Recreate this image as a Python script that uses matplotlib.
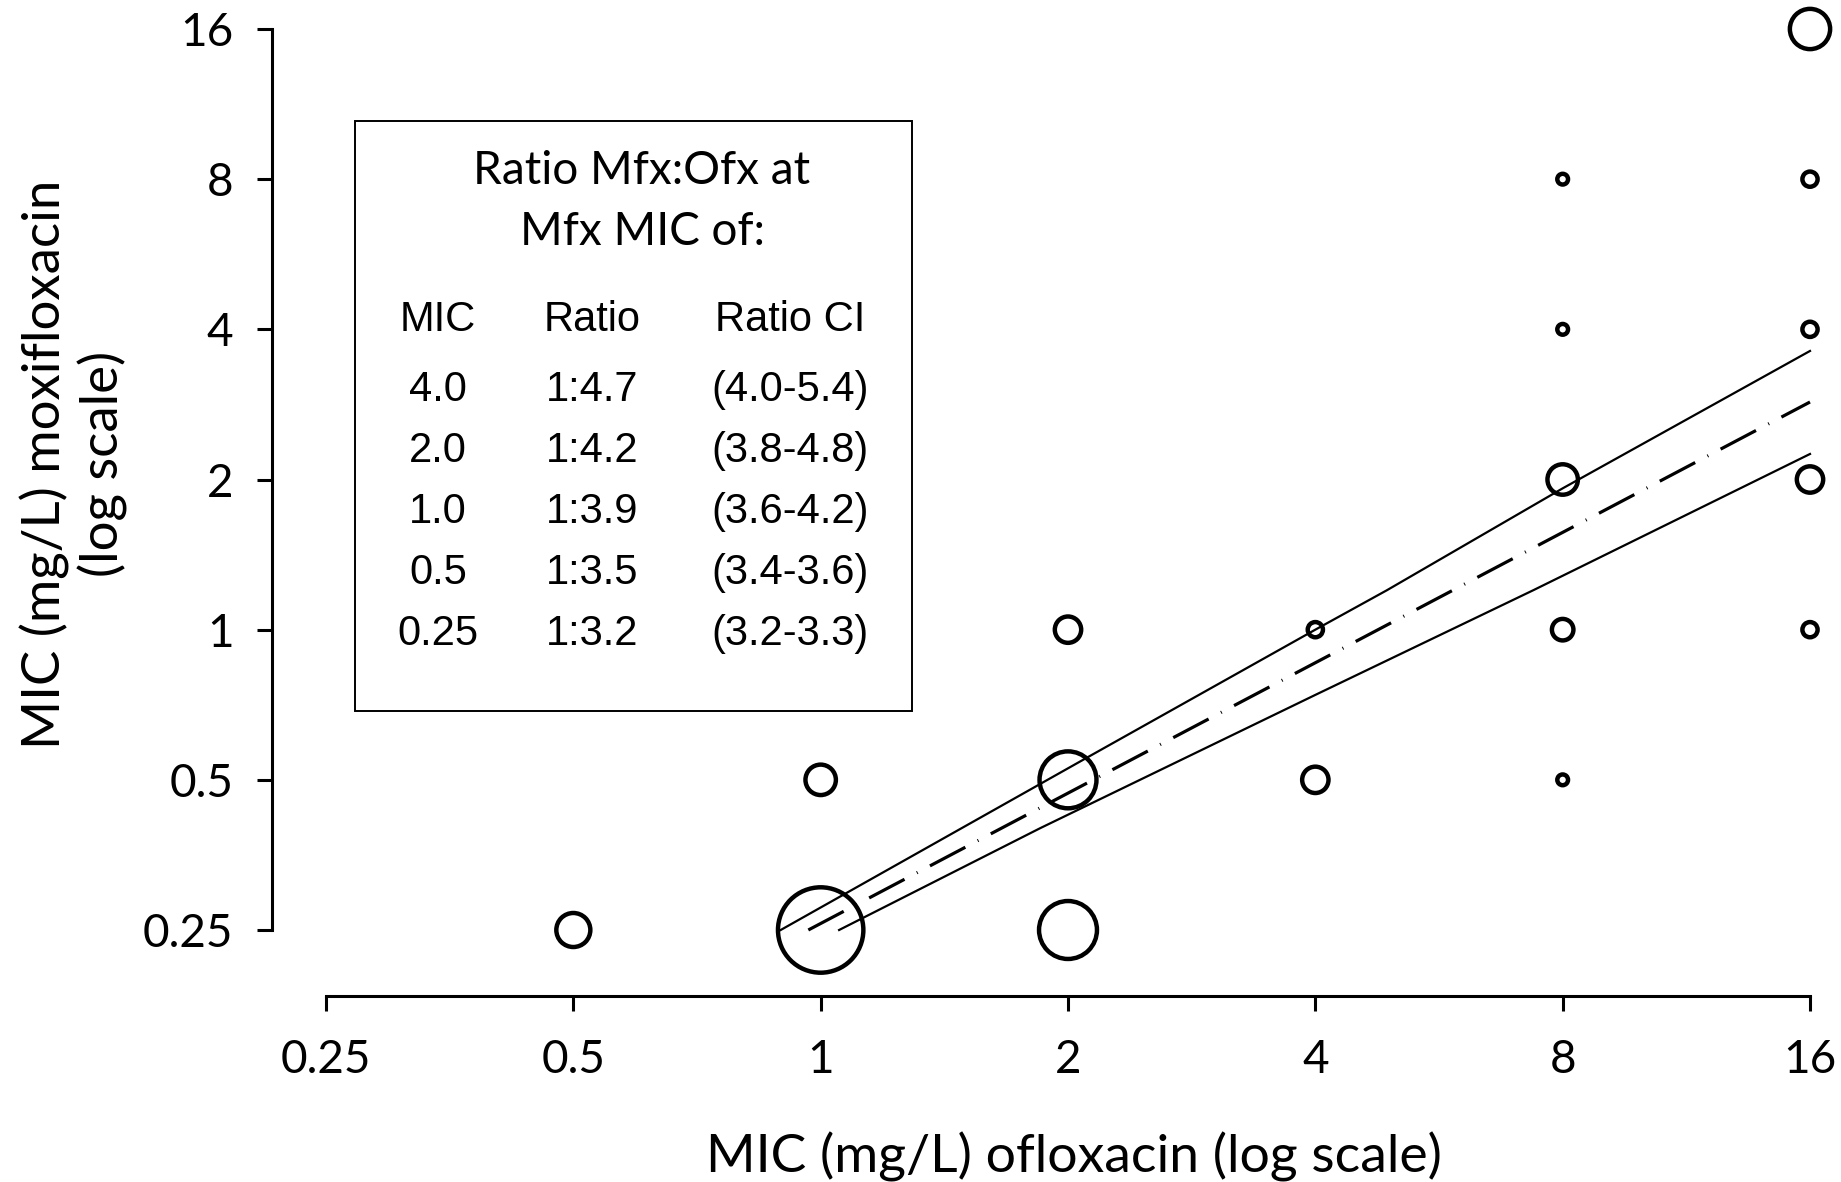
import matplotlib
matplotlib.use('Agg')
import matplotlib.pyplot as plt
import numpy as np

# isolates: ofloxacin MIC, moxifloxacin MIC, number of isolates
ofx_mic = [0.5, 1, 2, 1, 2, 4, 8, 2, 4, 8, 16, 8, 16, 8, 16, 8, 16, 16]
mfx_mic = [0.25, 0.25, 0.25, 0.5, 0.5, 0.5, 0.5, 1, 1, 1, 1, 2, 2, 4, 4, 8, 8, 16]
n_isolates = [10, 63, 29, 8, 28, 6, 1, 6, 2, 4, 2, 8, 6, 1, 2, 1, 2, 14]

# fitted line and its confidence band (points along each curve)
fit_x = [0.966, 16]
fit_y = [0.25, 2.86]
upper_x = [0.894, 2.13, 4.0, 4.89, 8.0, 16]
upper_y = [0.25, 0.559, 1.0, 1.20, 1.92, 3.62]
lower_x = [1.053, 1.85, 4.0, 7.37, 16]
lower_y = [0.25, 0.40, 0.74, 1.20, 2.25]

ticks = [0.25, 0.5, 1, 2, 4, 8, 16]
tick_labels = ['0.25', '0.5', '1', '2', '4', '8', '16']

# inset table
box_title = ['Ratio Mfx:Ofx at', 'Mfx MIC of:']
col_heads = ['MIC', 'Ratio', 'Ratio CI']
tab_mic = ['4.0', '2.0', '1.0', '0.5', '0.25']
tab_ratio = ['1:4.7', '1:4.2', '1:3.9', '1:3.5', '1:3.2']
tab_ci = ['(4.0-5.4)', '(3.8-4.8)', '(3.6-4.2)', '(3.4-3.6)', '(3.2-3.3)']

W, H = 1841, 1182
plt.rcParams['lines.scale_dashes'] = False
calibri = ['Lato', 'DejaVu Sans']
arial = ['Liberation Sans', 'DejaVu Sans']

fig = plt.figure(figsize=(W / 100, H / 100), dpi=100)

def px(x, y):
    return x / W, 1 - y / H

ax = fig.add_axes([326 / W, 1 - 930 / H, (1810 - 326) / W, (930 - 29) / H])
ax.set_xscale('log', base=2)
ax.set_yscale('log', base=2)
ax.set_xlim(0.25, 16)
ax.set_ylim(0.25, 16)

ax.scatter(ofx_mic, mfx_mic, s=np.array(n_isolates) * 60, facecolors='none',
           edgecolors='black', linewidths=3.2, clip_on=False, zorder=2)

ax.plot(upper_x, upper_y, color='black', lw=1.6, clip_on=False, zorder=3)
ax.plot(lower_x, lower_y, color='black', lw=1.6, clip_on=False, zorder=3)
ax.plot(fit_x, fit_y, color='black', lw=2.3, clip_on=False, zorder=3,
        linestyle=(0, (28.8, 10, 0.7, 10)), solid_capstyle='butt', dash_capstyle='butt')

for side in ['top', 'right']:
    ax.spines[side].set_visible(False)
ax.spines['left'].set_position(('outward', 38.9))
ax.spines['bottom'].set_position(('outward', 47.5))
ax.spines['left'].set_bounds(0.25, 16)
ax.spines['bottom'].set_bounds(0.25, 16)
for side in ['left', 'bottom']:
    ax.spines[side].set_linewidth(2.2)

ax.set_xticks(ticks)
ax.set_xticklabels(tick_labels)
ax.set_yticks(ticks)
ax.set_yticklabels(tick_labels)
ax.minorticks_off()
ax.tick_params(axis='both', length=10.8, width=2.2, labelsize=33)
ax.tick_params(axis='y', pad=17)
ax.tick_params(axis='x', pad=20)
for lab in ax.get_xticklabels() + ax.get_yticklabels():
    lab.set_family(calibri)

fig.text(*px(1074, 1157), 'MIC (mg/L) ofloxacin (log scale)', fontsize=38.5,
         family=calibri, ha='center', va='center')
fig.text(*px(74, 464), 'MIC (mg/L) moxifloxacin\n(log scale)', fontsize=38,
         family=calibri, ha='center', va='center', rotation=90,
         multialignment='center', linespacing=1.2)

# inset box with the ratio table
x0, y0 = px(355, 711)
x1, y1 = px(912, 121)
fig.patches.append(plt.Rectangle((x0, y0), x1 - x0, y1 - y0, transform=fig.transFigure,
                                 fill=False, edgecolor='black', lw=1.4))
for i, t in enumerate(box_title):
    fig.text(*px(642, 171 + 61 * i), t, fontsize=33, family=calibri,
             ha='center', va='center')
col_x = [438, 592, 790]
for cx, t in zip(col_x, col_heads):
    fig.text(*px(cx, 320), t, fontsize=30, family=arial, ha='center', va='center')
for i in range(len(tab_mic)):
    yy = 390 + 61 * i
    for cx, t in zip(col_x, [tab_mic[i], tab_ratio[i], tab_ci[i]]):
        fig.text(*px(cx, yy), t, fontsize=30, family=arial, ha='center', va='center')

fig.savefig('out.png', dpi=100)
